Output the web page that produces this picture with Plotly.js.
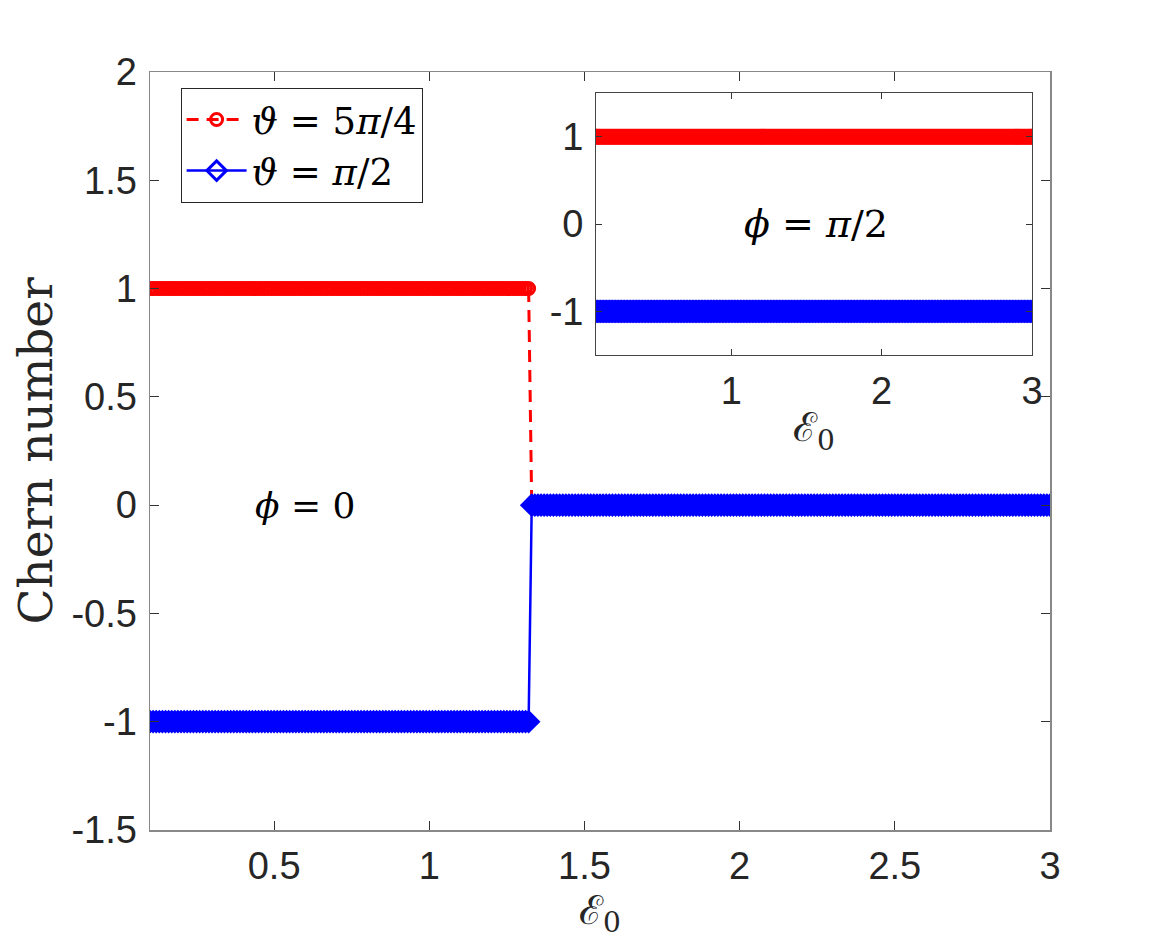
<!DOCTYPE html>
<html><head><meta charset="utf-8">
<script src="https://cdn.plot.ly/plotly-3.0.1.min.js"></script>
<style>body{margin:0;background:#fff}#chart{width:1161px;height:944px}</style>
</head><body><div id="chart"></div>
<script>
// Field amplitude grid E0 (step 0.01)
const E0 = [
0.10,0.11,0.12,0.13,0.14,0.15,0.16,0.17,0.18,0.19,
0.20,0.21,0.22,0.23,0.24,0.25,0.26,0.27,0.28,0.29,
0.30,0.31,0.32,0.33,0.34,0.35,0.36,0.37,0.38,0.39,
0.40,0.41,0.42,0.43,0.44,0.45,0.46,0.47,0.48,0.49,
0.50,0.51,0.52,0.53,0.54,0.55,0.56,0.57,0.58,0.59,
0.60,0.61,0.62,0.63,0.64,0.65,0.66,0.67,0.68,0.69,
0.70,0.71,0.72,0.73,0.74,0.75,0.76,0.77,0.78,0.79,
0.80,0.81,0.82,0.83,0.84,0.85,0.86,0.87,0.88,0.89,
0.90,0.91,0.92,0.93,0.94,0.95,0.96,0.97,0.98,0.99,
1.00,1.01,1.02,1.03,1.04,1.05,1.06,1.07,1.08,1.09,
1.10,1.11,1.12,1.13,1.14,1.15,1.16,1.17,1.18,1.19,
1.20,1.21,1.22,1.23,1.24,1.25,1.26,1.27,1.28,1.29,
1.30,1.31,1.32,1.33,1.34,1.35,1.36,1.37,1.38,1.39,
1.40,1.41,1.42,1.43,1.44,1.45,1.46,1.47,1.48,1.49,
1.50,1.51,1.52,1.53,1.54,1.55,1.56,1.57,1.58,1.59,
1.60,1.61,1.62,1.63,1.64,1.65,1.66,1.67,1.68,1.69,
1.70,1.71,1.72,1.73,1.74,1.75,1.76,1.77,1.78,1.79,
1.80,1.81,1.82,1.83,1.84,1.85,1.86,1.87,1.88,1.89,
1.90,1.91,1.92,1.93,1.94,1.95,1.96,1.97,1.98,1.99,
2.00,2.01,2.02,2.03,2.04,2.05,2.06,2.07,2.08,2.09,
2.10,2.11,2.12,2.13,2.14,2.15,2.16,2.17,2.18,2.19,
2.20,2.21,2.22,2.23,2.24,2.25,2.26,2.27,2.28,2.29,
2.30,2.31,2.32,2.33,2.34,2.35,2.36,2.37,2.38,2.39,
2.40,2.41,2.42,2.43,2.44,2.45,2.46,2.47,2.48,2.49,
2.50,2.51,2.52,2.53,2.54,2.55,2.56,2.57,2.58,2.59,
2.60,2.61,2.62,2.63,2.64,2.65,2.66,2.67,2.68,2.69,
2.70,2.71,2.72,2.73,2.74,2.75,2.76,2.77,2.78,2.79,
2.80,2.81,2.82,2.83,2.84,2.85,2.86,2.87,2.88,2.89,
2.90,2.91,2.92,2.93,2.94,2.95,2.96,2.97,2.98,2.99,
3.00];

// phi = 0, theta = 5pi/4
const chernRedPhi0 = [
1,1,1,1,1,1,1,1,1,1, 1,1,1,1,1,1,1,1,1,1, 1,1,1,1,1,1,1,1,1,1,
1,1,1,1,1,1,1,1,1,1, 1,1,1,1,1,1,1,1,1,1, 1,1,1,1,1,1,1,1,1,1,
1,1,1,1,1,1,1,1,1,1, 1,1,1,1,1,1,1,1,1,1, 1,1,1,1,1,1,1,1,1,1,
1,1,1,1,1,1,1,1,1,1, 1,1,1,1,1,1,1,1,1,1, 1,1,1,1,1,1,1,1,1,1,
1,1,1,0,0,0,0,0,0,0,
0,0,0,0,0,0,0,0,0,0, 0,0,0,0,0,0,0,0,0,0, 0,0,0,0,0,0,0,0,0,0, 0,0,0,0,0,0,0,0,0,0,
0,0,0,0,0,0,0,0,0,0, 0,0,0,0,0,0,0,0,0,0, 0,0,0,0,0,0,0,0,0,0, 0,0,0,0,0,0,0,0,0,0,
0,0,0,0,0,0,0,0,0,0, 0,0,0,0,0,0,0,0,0,0, 0,0,0,0,0,0,0,0,0,0, 0,0,0,0,0,0,0,0,0,0,
0,0,0,0,0,0,0,0,0,0, 0,0,0,0,0,0,0,0,0,0, 0,0,0,0,0,0,0,0,0,0, 0,0,0,0,0,0,0,0,0,0,
0];

// phi = 0, theta = pi/2
const chernBluePhi0 = [
-1,-1,-1,-1,-1,-1,-1,-1,-1,-1, -1,-1,-1,-1,-1,-1,-1,-1,-1,-1, -1,-1,-1,-1,-1,-1,-1,-1,-1,-1,
-1,-1,-1,-1,-1,-1,-1,-1,-1,-1, -1,-1,-1,-1,-1,-1,-1,-1,-1,-1, -1,-1,-1,-1,-1,-1,-1,-1,-1,-1,
-1,-1,-1,-1,-1,-1,-1,-1,-1,-1, -1,-1,-1,-1,-1,-1,-1,-1,-1,-1, -1,-1,-1,-1,-1,-1,-1,-1,-1,-1,
-1,-1,-1,-1,-1,-1,-1,-1,-1,-1, -1,-1,-1,-1,-1,-1,-1,-1,-1,-1, -1,-1,-1,-1,-1,-1,-1,-1,-1,-1,
-1,-1,-1,0,0,0,0,0,0,0,
0,0,0,0,0,0,0,0,0,0, 0,0,0,0,0,0,0,0,0,0, 0,0,0,0,0,0,0,0,0,0, 0,0,0,0,0,0,0,0,0,0,
0,0,0,0,0,0,0,0,0,0, 0,0,0,0,0,0,0,0,0,0, 0,0,0,0,0,0,0,0,0,0, 0,0,0,0,0,0,0,0,0,0,
0,0,0,0,0,0,0,0,0,0, 0,0,0,0,0,0,0,0,0,0, 0,0,0,0,0,0,0,0,0,0, 0,0,0,0,0,0,0,0,0,0,
0,0,0,0,0,0,0,0,0,0, 0,0,0,0,0,0,0,0,0,0, 0,0,0,0,0,0,0,0,0,0, 0,0,0,0,0,0,0,0,0,0,
0];

// phi = pi/2 (inset), theta = 5pi/4
const chernRedPhiHalfPi = [
1,1,1,1,1,1,1,1,1,1, 1,1,1,1,1,1,1,1,1,1, 1,1,1,1,1,1,1,1,1,1, 1,1,1,1,1,1,1,1,1,1,
1,1,1,1,1,1,1,1,1,1, 1,1,1,1,1,1,1,1,1,1, 1,1,1,1,1,1,1,1,1,1, 1,1,1,1,1,1,1,1,1,1,
1,1,1,1,1,1,1,1,1,1, 1,1,1,1,1,1,1,1,1,1, 1,1,1,1,1,1,1,1,1,1, 1,1,1,1,1,1,1,1,1,1,
1,1,1,1,1,1,1,1,1,1, 1,1,1,1,1,1,1,1,1,1, 1,1,1,1,1,1,1,1,1,1, 1,1,1,1,1,1,1,1,1,1,
1,1,1,1,1,1,1,1,1,1, 1,1,1,1,1,1,1,1,1,1, 1,1,1,1,1,1,1,1,1,1, 1,1,1,1,1,1,1,1,1,1,
1,1,1,1,1,1,1,1,1,1, 1,1,1,1,1,1,1,1,1,1, 1,1,1,1,1,1,1,1,1,1, 1,1,1,1,1,1,1,1,1,1,
1,1,1,1,1,1,1,1,1,1, 1,1,1,1,1,1,1,1,1,1, 1,1,1,1,1,1,1,1,1,1, 1,1,1,1,1,1,1,1,1,1,
1,1,1,1,1,1,1,1,1,1,
1];

// phi = pi/2 (inset), theta = pi/2
const chernBluePhiHalfPi = [
-1,-1,-1,-1,-1,-1,-1,-1,-1,-1, -1,-1,-1,-1,-1,-1,-1,-1,-1,-1, -1,-1,-1,-1,-1,-1,-1,-1,-1,-1, -1,-1,-1,-1,-1,-1,-1,-1,-1,-1,
-1,-1,-1,-1,-1,-1,-1,-1,-1,-1, -1,-1,-1,-1,-1,-1,-1,-1,-1,-1, -1,-1,-1,-1,-1,-1,-1,-1,-1,-1, -1,-1,-1,-1,-1,-1,-1,-1,-1,-1,
-1,-1,-1,-1,-1,-1,-1,-1,-1,-1, -1,-1,-1,-1,-1,-1,-1,-1,-1,-1, -1,-1,-1,-1,-1,-1,-1,-1,-1,-1, -1,-1,-1,-1,-1,-1,-1,-1,-1,-1,
-1,-1,-1,-1,-1,-1,-1,-1,-1,-1, -1,-1,-1,-1,-1,-1,-1,-1,-1,-1, -1,-1,-1,-1,-1,-1,-1,-1,-1,-1, -1,-1,-1,-1,-1,-1,-1,-1,-1,-1,
-1,-1,-1,-1,-1,-1,-1,-1,-1,-1, -1,-1,-1,-1,-1,-1,-1,-1,-1,-1, -1,-1,-1,-1,-1,-1,-1,-1,-1,-1, -1,-1,-1,-1,-1,-1,-1,-1,-1,-1,
-1,-1,-1,-1,-1,-1,-1,-1,-1,-1, -1,-1,-1,-1,-1,-1,-1,-1,-1,-1, -1,-1,-1,-1,-1,-1,-1,-1,-1,-1, -1,-1,-1,-1,-1,-1,-1,-1,-1,-1,
-1,-1,-1,-1,-1,-1,-1,-1,-1,-1, -1,-1,-1,-1,-1,-1,-1,-1,-1,-1, -1,-1,-1,-1,-1,-1,-1,-1,-1,-1, -1,-1,-1,-1,-1,-1,-1,-1,-1,-1,
-1,-1,-1,-1,-1,-1,-1,-1,-1,-1,
-1];

const seriesNames = ['<i>ϑ</i> = 5<i>π</i>/4', '<i>ϑ</i> = <i>π</i>/2'];
const mainXTicks = [0.5, 1, 1.5, 2, 2.5, 3];
const mainXTickText = ['0.5', '1', '1.5', '2', '2.5', '3'];
const mainYTicks = [-1.5, -1, -0.5, 0, 0.5, 1, 1.5, 2];
const mainYTickText = ['-1.5', '-1', '-0.5', '0', '0.5', '1', '1.5', '2'];
const insetXTicks = [1, 2, 3];
const insetXTickText = ['1', '2', '3'];
const insetYTicks = [-1, 0, 1];
const insetYTickText = ['-1', '0', '1'];

const RED = '#ff0000', BLUE = '#0000ff';
const tickFont = {family: 'Liberation Sans, Arial, sans-serif', size: 38, color: '#262626'};
const serif = 'DejaVu Serif, serif';

const traces = [
  {x: E0, y: chernRedPhi0, name: seriesNames[0], type: 'scatter', mode: 'lines+markers',
   line: {color: RED, width: 3, dash: '12px,8px'},
   marker: {symbol: 'circle-open', size: 12, color: RED, line: {width: 3, color: RED}},
   xaxis: 'x', yaxis: 'y'},
  {x: E0, y: chernBluePhi0, name: seriesNames[1], type: 'scatter', mode: 'lines+markers',
   line: {color: BLUE, width: 2.5},
   marker: {symbol: 'diamond-open', size: 15, color: BLUE, line: {width: 3, color: BLUE}},
   xaxis: 'x', yaxis: 'y'},
  {x: E0, y: chernRedPhiHalfPi, name: seriesNames[0], type: 'scatter', mode: 'lines+markers', showlegend: false,
   line: {color: RED, width: 3, dash: '12px,8px'},
   marker: {symbol: 'circle-open', size: 13, color: RED, line: {width: 3, color: RED}},
   xaxis: 'x2', yaxis: 'y2'},
  {x: E0, y: chernBluePhiHalfPi, name: seriesNames[1], type: 'scatter', mode: 'lines+markers', showlegend: false,
   line: {color: BLUE, width: 2.5},
   marker: {symbol: 'diamond-open', size: 15, color: BLUE, line: {width: 3, color: BLUE}},
   xaxis: 'x2', yaxis: 'y2'}
];

const layout = {
  width: 1161, height: 944,
  margin: {l: 150, r: 111, t: 72, b: 114},
  paper_bgcolor: '#ffffff', plot_bgcolor: '#ffffff',
  showlegend: true,
  legend: {x: 0.034, y: 0.979, xanchor: 'left', yanchor: 'top', bgcolor: '#ffffff',
           bordercolor: '#262626', borderwidth: 1, itemwidth: 60, tracegroupgap: 0,
           font: {family: serif, size: 37, color: '#000'}},
  xaxis: {domain: [0, 1], range: [0.1, 3], tickvals: mainXTicks, ticktext: mainXTickText,
          ticks: 'inside', ticklen: 9, tickwidth: 1, tickcolor: '#333', showline: true, linecolor: '#888', linewidth: 1.5,
          mirror: 'ticks', showgrid: false, zeroline: false, tickfont: tickFont, ticklabelstandoff: 2,
          title: {text: 'ℰ<sub>0</sub>', font: {family: serif, size: 40, color: '#262626'}, standoff: 2}},
  yaxis: {domain: [0, 1], range: [-1.5, 2], tickvals: mainYTicks, ticktext: mainYTickText,
          ticks: 'inside', ticklen: 9, tickwidth: 1, tickcolor: '#333', showline: true, linecolor: '#888', linewidth: 1.5,
          mirror: 'ticks', showgrid: false, zeroline: false, tickfont: tickFont, ticklabelstandoff: 4,
          title: {text: 'Chern number', font: {family: serif, size: 47, color: '#262626'}, standoff: 4}},
  xaxis2: {domain: [0.4956, 0.98], anchor: 'y2', range: [0.1, 3], tickvals: insetXTicks, ticktext: insetXTickText,
           ticks: 'inside', ticklen: 6, tickwidth: 1, tickcolor: '#333', showline: true, linecolor: '#444', linewidth: 1,
           mirror: 'ticks', showgrid: false, zeroline: false, tickfont: tickFont, ticklabelstandoff: 2,
           title: {text: 'ℰ<sub>0</sub>', font: {family: serif, size: 40, color: '#262626'}, standoff: 2}},
  yaxis2: {domain: [0.6266, 0.9723], anchor: 'x2', range: [-1.5, 1.5], tickvals: insetYTicks, ticktext: insetYTickText,
           ticks: 'inside', ticklen: 6, tickwidth: 1, tickcolor: '#333', showline: true, linecolor: '#444', linewidth: 1,
           mirror: 'ticks', showgrid: false, zeroline: false, tickfont: tickFont, ticklabelstandoff: 4},
  annotations: [
    {xref: 'x', yref: 'y', x: 0.6, y: 0, text: '<i>ϕ</i> = 0', showarrow: false,
     font: {family: serif, size: 36, color: '#000'}},
    {xref: 'x2', yref: 'y2', x: 1.56, y: 0, text: '<i>ϕ</i> = <i>π</i>/2', showarrow: false,
     font: {family: serif, size: 38, color: '#000'}}
  ]
};

Plotly.newPlot('chart', traces, layout, {displayModeBar: false, staticPlot: true});
</script>
</body></html>
